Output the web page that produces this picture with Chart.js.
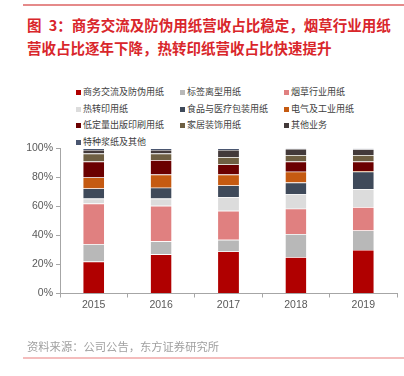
<!DOCTYPE html>
<html><head><meta charset="utf-8">
<script src="https://cdn.jsdelivr.net/npm/chart.js@4.4.0/dist/chart.umd.min.js"></script>
<style>
html,body{margin:0;padding:0;background:#fff;width:404px;height:376px;overflow:hidden;position:relative;font-family:"Noto Sans CJK SC",sans-serif;}
#topline{position:absolute;left:23px;top:4px;width:381px;height:1.5px;background:#E58A8A;}
#title{position:absolute;left:27px;top:13px;color:#D9262B;font-weight:bold;font-size:14.5px;line-height:23px;white-space:nowrap;}
#legend{position:absolute;left:0;top:0;}
.li{position:absolute;font-size:9px;color:#404040;white-space:nowrap;line-height:12px;}
.sw{position:absolute;width:5px;height:5px;}
#src{position:absolute;left:27px;top:339px;color:#A0A0A0;font-size:11.3px;line-height:15px;white-space:nowrap;}
#botline{position:absolute;left:23px;top:357px;width:381px;height:1.5px;background:#F4BDBD;}
#wrap{position:absolute;left:0;top:0;width:404px;height:376px;}
</style></head><body>
<div id="topline"></div>
<div id="title">图&ensp;3：商务交流及防伪用纸营收占比稳定，烟草行业用纸<br>营收占比逐年下降，热转印纸营收占比快速提升</div>
<div id="legend"></div>
<div id="wrap"><canvas id="c" width="404" height="376"></canvas></div>
<div id="src">资料来源：公司公告，东方证券研究所</div>
<div id="botline"></div>
<script>
const years = ["2015","2016","2017","2018","2019"];
const yTickLabels = ["0%","20%","40%","60%","80%","100%"];
const seriesNames = ["商务交流及防伪用纸","标签离型用纸","烟草行业用纸","热转印用纸","食品与医疗包装用纸","电气及工业用纸","低定量出版印刷用纸","家居装饰用纸","其他业务","特种浆纸及其他"];
const shangwu   = [22, 27, 29, 25, 30];
const biaoqian  = [12, 9, 8, 16, 13.5];
const yancao    = [28, 24.5, 20, 17.5, 16];
const rezhuanyin= [3.5, 5, 9.5, 10, 12.5];
const shipin    = [7, 7.5, 8, 8, 12];
const dianqi    = [7.5, 9, 7.5, 7.5, 0.5];
const didingliang=[11, 10, 7, 7, 6.5];
const jiaju     = [5.5, 4.5, 5, 4.5, 4.5];
const qita      = [2.5, 2.5, 5, 4.2, 4];
const tezhong   = [1, 1, 1, 0.3, 0.5];
const seriesData = [shangwu,biaoqian,yancao,rezhuanyin,shipin,dianqi,didingliang,jiaju,qita,tezhong];
const colors = ["#B00000","#B8B8B8","#E08080","#DCDCDC","#3F4A5A","#C55A11","#6B0000","#6E5F42","#433A3A","#4A5670"];

// legend
const lg = document.getElementById('legend');
const colX = [76,180,284], rowY = [92.7,109.3,125.7,142.3];
seriesNames.forEach((n,i)=>{
  const c = i%3, r = Math.floor(i/3);
  const sw = document.createElement('div'); sw.className='sw';
  sw.style.left = colX[c]+'px'; sw.style.top=(rowY[r]-2.5)+'px'; sw.style.background=colors[i];
  const t = document.createElement('div'); t.className='li'; t.textContent=n;
  t.style.left=(colX[c]+7)+'px'; t.style.top=(rowY[r]-6.5)+'px';
  lg.appendChild(sw); lg.appendChild(t);
});

const datasets = seriesNames.map((n,i)=>({
  label:n, data:seriesData[i], backgroundColor:colors[i],
  borderColor:'rgba(255,255,255,0.55)', borderWidth:{top:0.6,bottom:0,left:0,right:0}, borderSkipped:false,
  barPercentage:0.31, categoryPercentage:1
}));

new Chart(document.getElementById('c'), {
  type:'bar',
  data:{labels:years, datasets},
  options:{
    responsive:false, animation:false,
    layout:{padding:{top:148.5,left:0,right:7,bottom:52.5}},
    plugins:{legend:{display:false},tooltip:{enabled:false}},
    scales:{
      x:{stacked:true,
        grid:{display:true,drawOnChartArea:false,drawTicks:true,tickLength:4,color:'#A6A6A6',offset:true},
        border:{display:true,color:'#A6A6A6'},
        ticks:{color:'#595959',font:{family:'Liberation Sans',size:10.5},padding:1},
        afterFit:(s)=>{s.height=30;}
      },
      y:{stacked:true,min:0,max:100,
        grid:{display:true,drawOnChartArea:false,drawTicks:true,tickLength:4,color:'#A6A6A6'},
        border:{display:true,color:'#A6A6A6'},
        ticks:{stepSize:20,color:'#595959',font:{family:'Liberation Sans',size:10.5},padding:3,
          callback:(v)=>yTickLabels[Math.round(v/20)]},
        afterFit:(s)=>{s.width=60;}
      }
    }
  }
});
</script>
</body></html>
